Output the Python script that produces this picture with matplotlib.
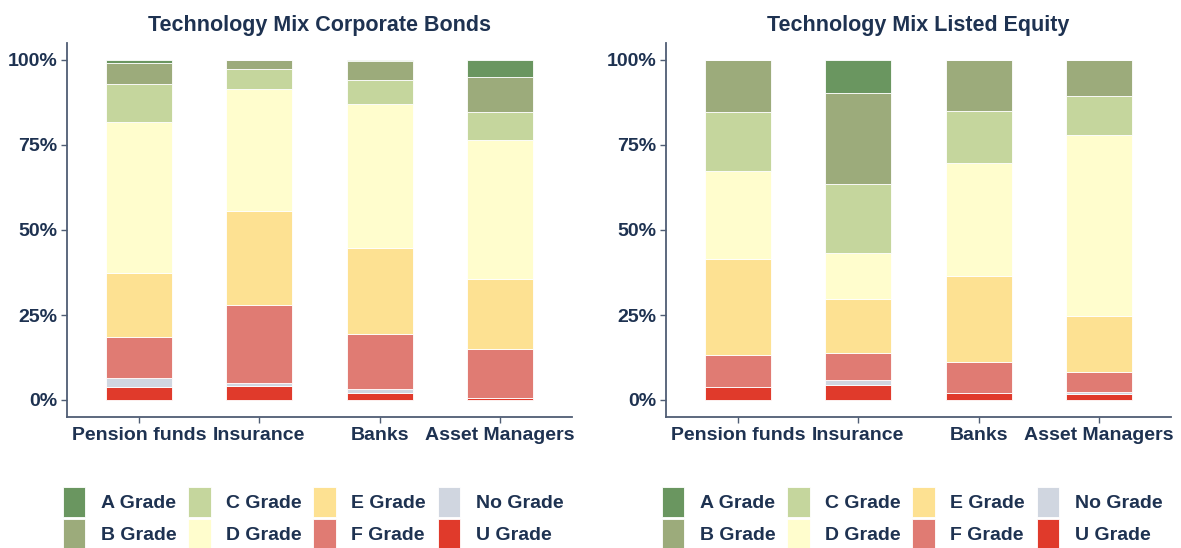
import matplotlib
matplotlib.use("Agg")
import matplotlib.pyplot as plt
import numpy as np
from matplotlib.patches import Patch

plt.rcParams["font.family"] = ["Liberation Sans", "DejaVu Sans"]
plt.rcParams["font.weight"] = "bold"

categories = ["Pension funds", "Insurance", "Banks", "Asset Managers"]
grades = ["A Grade", "B Grade", "C Grade", "D Grade", "E Grade", "F Grade", "No Grade", "U Grade"]
grade_colors = ["#6a9660", "#9cab7b", "#c5d69d", "#fffdcd", "#fde192", "#e07b73", "#d0d6e0", "#e03a2b"]

# Shares (%) per grade, in the order of `grades`, one entry per category
bonds_A = [0.8, 0.0, 0.4, 4.9]
bonds_B = [6.3, 2.6, 5.5, 10.3]
bonds_C = [11.0, 5.8, 6.9, 8.4]
bonds_D = [44.6, 35.9, 42.4, 40.7]
bonds_E = [18.8, 27.7, 25.4, 20.7]
bonds_F = [12.1, 23.1, 16.3, 14.5]
bonds_No = [2.6, 0.8, 0.9, 0.0]
bonds_U = [3.8, 4.1, 2.2, 0.5]

equity_A = [0.0, 9.6, 0.0, 0.0]
equity_B = [15.2, 27.0, 15.1, 10.6]
equity_C = [17.4, 20.3, 15.3, 11.4]
equity_D = [25.8, 13.5, 33.2, 53.4]
equity_E = [28.5, 15.8, 25.3, 16.5]
equity_F = [9.2, 7.9, 9.0, 5.8]
equity_No = [0.0, 1.5, 0.0, 0.4]
equity_U = [3.9, 4.4, 2.1, 1.9]

bonds = [bonds_A, bonds_B, bonds_C, bonds_D, bonds_E, bonds_F, bonds_No, bonds_U]
equity = [equity_A, equity_B, equity_C, equity_D, equity_E, equity_F, equity_No, equity_U]

TEXT = "#1e3251"
SPINE = "#4f5d74"

fig = plt.figure(figsize=(11.81, 5.48), dpi=100)
ax_left = fig.add_axes([67 / 1181, 131 / 548, 505 / 1181, 374 / 548])
ax_right = fig.add_axes([666 / 1181, 131 / 548, 505 / 1181, 374 / 548])


def draw_panel(ax, shares, title):
    x = np.arange(len(categories))
    bottom = np.zeros(len(categories))
    # stack from U Grade at the bottom up to A Grade on top
    for vals, color in zip(reversed(shares), reversed(grade_colors)):
        v = np.array(vals) / 100.0
        ax.bar(x, v, width=0.55, bottom=bottom, color=color,
               edgecolor="white", linewidth=0.6)
        bottom += v
    ax.set_xlim(-0.6, 3.6)
    ax.set_ylim(-0.05, 1.05)
    ax.set_xticks(x)
    ax.set_xticklabels(categories)
    ax.set_yticks([0, 0.25, 0.5, 0.75, 1.0])
    ax.set_yticklabels(["0%", "25%", "50%", "75%", "100%"])
    for s in ["top", "right"]:
        ax.spines[s].set_visible(False)
    for s in ["left", "bottom"]:
        ax.spines[s].set_color(SPINE)
        ax.spines[s].set_linewidth(1.3)
    ax.tick_params(axis="both", colors=SPINE, length=4, width=1.0,
                   labelsize=14, labelcolor=TEXT, pad=3)
    for lbl in ax.get_xticklabels() + ax.get_yticklabels():
        lbl.set_fontweight("bold")
    ax.set_title(title, fontsize=15.5, fontweight="bold", color=TEXT, pad=9)

    handles = [Patch(facecolor=c, edgecolor="white", linewidth=0.6) for c in grade_colors]
    leg = ax.legend(handles, grades, ncol=4, loc="upper left",
                    bbox_to_anchor=(ax.get_position().x0 - 4 / 1181, 61 / 548),
                    bbox_transform=fig.transFigure, frameon=False,
                    fontsize=14, handlelength=1.15, handleheight=2.0,
                    handletextpad=0.8, columnspacing=0.6, labelspacing=0.08,
                    borderpad=0, borderaxespad=0)
    for t in leg.get_texts():
        t.set_color(TEXT)
        t.set_fontweight("bold")


draw_panel(ax_left, bonds, "Technology Mix Corporate Bonds")
draw_panel(ax_right, equity, "Technology Mix Listed Equity")

fig.savefig("out.png", dpi=100, facecolor="white")
